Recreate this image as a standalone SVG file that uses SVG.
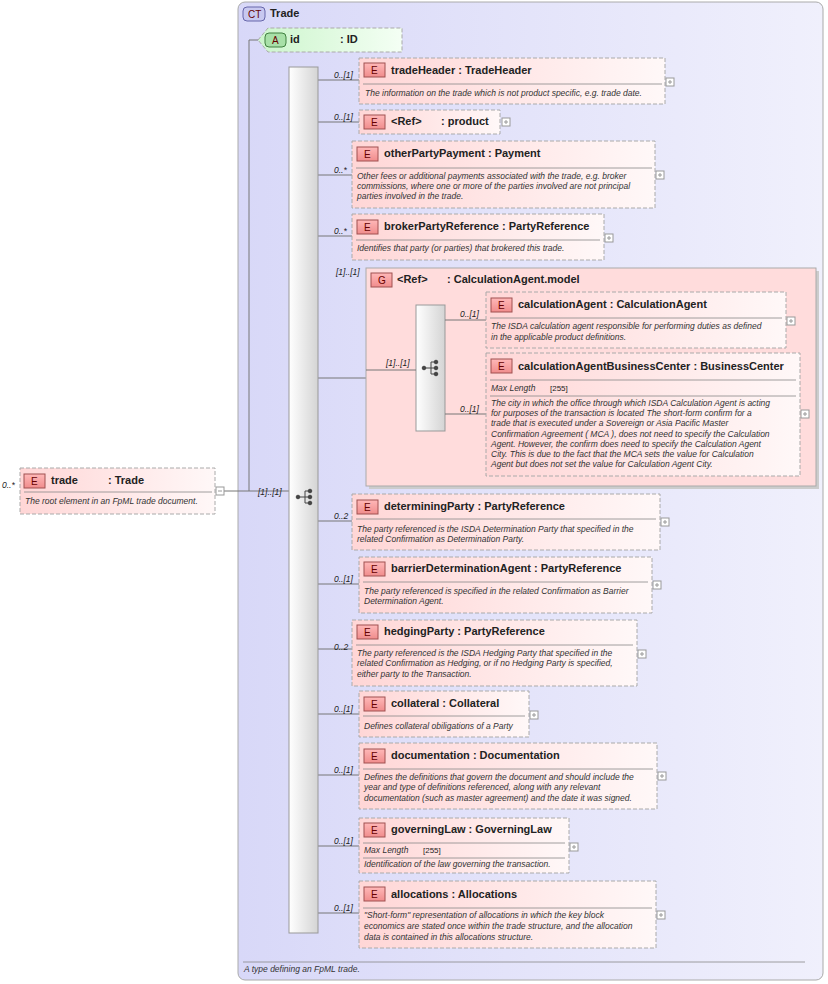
<svg xmlns="http://www.w3.org/2000/svg" width="828" height="984" viewBox="0 0 828 984">
<defs>
<linearGradient id="eg" x1="0" x2="1" y1="0" y2="0"><stop offset="0" stop-color="#ffd6d6"/><stop offset="1" stop-color="#fff8f8"/></linearGradient>
<linearGradient id="ag" x1="0" x2="1"><stop offset="0" stop-color="#ccf5cc"/><stop offset="1" stop-color="#f4fff4"/></linearGradient>
<linearGradient id="sg" x1="0" x2="1"><stop offset="0" stop-color="#ffffff"/><stop offset="1" stop-color="#d4d4d4"/></linearGradient>
<linearGradient id="ctg" x1="0" x2="1"><stop offset="0" stop-color="#d8d8f8"/><stop offset="1" stop-color="#f0f0fc"/></linearGradient>
<linearGradient id="bg" x1="0" x2="0" y1="0" y2="1"><stop offset="0" stop-color="#ffb8b8"/><stop offset="1" stop-color="#f08c8c"/></linearGradient>
<g id="seqicon" fill="#444" stroke="#444"><line x1="-7" y1="0" x2="0" y2="0"/><line x1="0" y1="-6" x2="0" y2="6"/><line x1="0" y1="-6" x2="4" y2="-6"/><line x1="0" y1="0" x2="4" y2="0"/><line x1="0" y1="6" x2="4" y2="6"/><circle cx="-7" cy="0" r="1.8"/><circle cx="5" cy="-6" r="1.8"/><circle cx="5" cy="0" r="1.8"/><circle cx="5" cy="6" r="1.8"/></g>
</defs>
<style>
text{font-family:"Liberation Sans",Arial,sans-serif;fill:#222}
.t{font-size:11px;font-weight:bold}
.d{font-size:8.5px;font-style:italic;fill:#333}
.c{font-size:8.5px;font-style:italic;fill:#222}
.el{fill:url(#eg);stroke:#aaa;stroke-dasharray:4,2}
.b{fill:url(#bg);stroke:#a05050}
.bt{font-size:10px;fill:#600;font-family:"Liberation Sans",Arial,sans-serif}
.sep{stroke:#888;stroke-width:0.8}
.ln{stroke:#777;fill:none}
.pl{fill:#fff;stroke:#999}
.sh{fill:#ccc}
</style>
<g id="ct">
<rect x="238" y="2" width="585" height="978" rx="7" fill="url(#ctg)" stroke="#aaa"/>
<rect x="243" y="7" width="22" height="14" rx="4" fill="#c8c8f0" stroke="#6666aa"/><text x="248" y="18" class="bt" fill="#336">CT</text>
<text x="270" y="17" class="t">Trade</text>
<line x1="243" y1="962" x2="805" y2="962" class="sep"/>
<text x="244" y="972" class="d">A type defining an FpML trade.</text>
</g>
<g id="connectors">
<polyline class="ln" points="222,491 249,491"/>
<polyline class="ln" points="258,40 249,40 249,491 289,491"/>
<text x="258" y="495" class="c">[1]..[1]</text>
<line class="ln" x1="318" y1="80" x2="359" y2="80"/><text x="334" y="78" class="c">0..[1]</text>
<line class="ln" x1="318" y1="122" x2="359" y2="122"/><text x="334" y="120" class="c">0..[1]</text>
<line class="ln" x1="318" y1="175" x2="352" y2="175"/><text x="334" y="173" class="c">0..*</text>
<line class="ln" x1="318" y1="236" x2="352" y2="236"/><text x="334" y="234" class="c">0..*</text>
<line class="ln" x1="318" y1="378" x2="366" y2="378"/><text x="336" y="275" class="c">[1]..[1]</text>
<line class="ln" x1="318" y1="521" x2="352" y2="521"/><text x="334" y="519" class="c">0..2</text>
<line class="ln" x1="318" y1="584" x2="359" y2="584"/><text x="334" y="582" class="c">0..[1]</text>
<line class="ln" x1="318" y1="649" x2="352" y2="649"/><text x="334" y="650" class="c">0..2</text>
<line class="ln" x1="318" y1="714" x2="359" y2="714"/><text x="334" y="712" class="c">0..[1]</text>
<line class="ln" x1="318" y1="775" x2="359" y2="775"/><text x="334" y="773" class="c">0..[1]</text>
<line class="ln" x1="318" y1="846" x2="359" y2="846"/><text x="334" y="844" class="c">0..[1]</text>
<line class="ln" x1="318" y1="913" x2="359" y2="913"/><text x="334" y="911" class="c">0..[1]</text>
</g>
<g id="trade">
<text x="2" y="488" class="c">0..*</text>
<rect x="20" y="468" width="195" height="46" class="el"/>
<rect x="24" y="474" width="21" height="14" class="b"/><text x="31" y="485" class="bt">E</text>
<text x="51" y="484" class="t">trade</text><text x="108" y="484" class="t">: Trade</text>
<line x1="24" y1="492" x2="212" y2="492" class="sep"/>
<text x="25" y="504" class="d">The root element in an FpML trade document.</text>
<rect x="216" y="487" width="8" height="8" class="pl"/><line x1="218" y1="491" x2="222" y2="491" stroke="#999"/>
</g>
<g id="id">
<path d="M258,40 L268,28 L402,28 L402,52 L268,52 Z" fill="url(#ag)" stroke="#aaa" stroke-dasharray="4,2"/>
<rect x="265" y="33" width="21" height="14" rx="4" fill="#a8e0a8" stroke="#408040"/><text x="272" y="44" class="bt" fill="#040">A</text>
<text x="290" y="43" class="t">id</text><text x="340" y="43" class="t">: ID</text>
</g>
<g id="seq">
<rect x="289" y="67" width="29" height="866" fill="url(#sg)" stroke="#999"/>
<use href="#seqicon" x="305" y="497"/>
</g>
<g id="tradeHeader">
<rect x="359" y="58" width="306" height="46" class="el"/>
<rect x="364" y="63" width="21" height="14" class="b"/><text x="371" y="74" class="bt">E</text>
<text x="391" y="74" class="t">tradeHeader : TradeHeader</text>
<line x1="363" y1="84" x2="662" y2="84" class="sep"/>
<text x="365" y="96" class="d">The information on the trade which is not product specific, e.g. trade date.</text>
<rect x="666" y="78" width="8" height="8" class="pl"/><path d="M668,82h4M670,80v4" stroke="#999"/>
</g>
<g id="product">
<rect x="359" y="110" width="141" height="24" class="el"/>
<rect x="364" y="115" width="21" height="14" class="b"/><text x="371" y="126" class="bt">E</text>
<text x="391" y="125" class="t">&lt;Ref&gt;</text><text x="441" y="125" class="t">: product</text>
<rect x="502" y="118" width="8" height="8" class="pl"/><path d="M504,122h4M506,120v4" stroke="#999"/>
</g>
<g id="otherPartyPayment">
<rect x="352" y="141" width="303" height="67" class="el"/>
<rect x="357" y="147" width="21" height="14" class="b"/><text x="364" y="158" class="bt">E</text>
<text x="384" y="157" class="t">otherPartyPayment : Payment</text>
<line x1="356" y1="168" x2="652" y2="168" class="sep"/>
<text x="357" y="179" class="d">Other fees or additional payments associated with the trade, e.g. broker</text>
<text x="357" y="189" class="d">commissions, where one or more of the parties involved are not principal</text>
<text x="357" y="199" class="d">parties involved in the trade.</text>
<rect x="656" y="171" width="8" height="8" class="pl"/><path d="M658,175h4M660,173v4" stroke="#999"/>
</g>
<g id="brokerPartyReference">
<rect x="352" y="214" width="252" height="46" class="el"/>
<rect x="357" y="220" width="21" height="14" class="b"/><text x="364" y="231" class="bt">E</text>
<text x="384" y="230" class="t">brokerPartyReference : PartyReference</text>
<line x1="356" y1="240" x2="600" y2="240" class="sep"/>
<text x="357" y="251" class="d">Identifies that party (or parties) that brokered this trade.</text>
<rect x="605" y="234" width="8" height="8" class="pl"/><path d="M607,238h4M609,236v4" stroke="#999"/>
</g>
<g id="calcModel">
<rect x="369" y="271" width="450" height="218" class="sh"/>
<rect x="366" y="268" width="450" height="218" fill="#ffdcdc" stroke="#aaa"/>
<rect x="371" y="273" width="21" height="14" class="b"/><text x="378" y="284" class="bt">G</text>
<text x="397" y="283" class="t" font-weight="normal">&lt;Ref&gt;</text><text x="447" y="283" class="t" font-weight="normal">: CalculationAgent.model</text>
<rect x="416" y="305" width="29" height="126" fill="url(#sg)" stroke="#999"/>
<use href="#seqicon" x="431" y="368"/>
</g>
<g id="connectors-inner">
<line class="ln" x1="366" y1="370" x2="416" y2="370"/><text x="386" y="366" class="c">[1]..[1]</text>
<line class="ln" x1="445" y1="320" x2="486" y2="320"/><text x="460" y="317" class="c">0..[1]</text>
<line class="ln" x1="445" y1="414" x2="486" y2="414"/><text x="460" y="412" class="c">0..[1]</text>
</g>
<g id="calculationAgent">
<rect x="486" y="292" width="300" height="56" class="el"/>
<rect x="491" y="298" width="21" height="14" class="b"/><text x="498" y="309" class="bt">E</text>
<text x="518" y="308" class="t">calculationAgent : CalculationAgent</text>
<line x1="490" y1="318" x2="782" y2="318" class="sep"/>
<text x="491" y="329" class="d">The ISDA calculation agent responsible for performing duties as defined</text>
<text x="491" y="340" class="d">in the applicable product definitions.</text>
<rect x="787" y="317" width="8" height="8" class="pl"/><path d="M789,321h4M791,319v4" stroke="#999"/>
</g>
<g id="calculationAgentBusinessCenter">
<rect x="486" y="353" width="314" height="123" class="el"/>
<rect x="491" y="359" width="21" height="14" class="b"/><text x="498" y="370" class="bt">E</text>
<text x="518" y="370" class="t">calculationAgentBusinessCenter : BusinessCenter</text>
<line x1="490" y1="380" x2="796" y2="380" class="sep"/>
<text x="491" y="391" class="d">Max Length</text><text x="550" y="391" font-size="8" fill="#888">[255]</text>
<line x1="490" y1="396" x2="796" y2="396" class="sep"/>
<text x="491" y="406" class="d">The city in which the office through which ISDA Calculation Agent is acting</text>
<text x="491" y="416" class="d">for purposes of the transaction is located The short-form confirm for a</text>
<text x="491" y="426" class="d">trade that is executed under a Sovereign or Asia Pacific Master</text>
<text x="491" y="437" class="d">Confirmation Agreement ( MCA ), does not need to specify the Calculation</text>
<text x="491" y="447" class="d">Agent. However, the confirm does need to specify the Calculation Agent</text>
<text x="491" y="457" class="d">City. This is due to the fact that the MCA sets the value for Calculation</text>
<text x="491" y="467" class="d">Agent but does not set the value for Calculation Agent City.</text>
<rect x="801" y="410" width="8" height="8" class="pl"/><path d="M803,414h4M805,412v4" stroke="#999"/>
</g>
<g id="determiningParty">
<rect x="352" y="494" width="308" height="56" class="el"/>
<rect x="357" y="500" width="21" height="14" class="b"/><text x="364" y="511" class="bt">E</text>
<text x="384" y="510" class="t">determiningParty : PartyReference</text>
<line x1="356" y1="519" x2="656" y2="519" class="sep"/>
<text x="357" y="532" class="d">The party referenced is the ISDA Determination Party that specified in the</text>
<text x="357" y="542" class="d">related Confirmation as Determination Party.</text>
<rect x="661" y="518" width="8" height="8" class="pl"/><path d="M663,522h4M665,520v4" stroke="#999"/>
</g>
<g id="barrierDeterminationAgent">
<rect x="359" y="557" width="293" height="56" class="el"/>
<rect x="364" y="562" width="21" height="14" class="b"/><text x="371" y="573" class="bt">E</text>
<text x="391" y="572" class="t">barrierDeterminationAgent : PartyReference</text>
<line x1="363" y1="582" x2="648" y2="582" class="sep"/>
<text x="364" y="594" class="d">The party referenced is specified in the related Confirmation as Barrier</text>
<text x="364" y="604" class="d">Determination Agent.</text>
<rect x="653" y="581" width="8" height="8" class="pl"/><path d="M655,585h4M657,583v4" stroke="#999"/>
</g>
<g id="hedgingParty">
<rect x="352" y="620" width="285" height="66" class="el"/>
<rect x="357" y="625" width="21" height="14" class="b"/><text x="364" y="636" class="bt">E</text>
<text x="384" y="635" class="t">hedgingParty : PartyReference</text>
<line x1="356" y1="645" x2="633" y2="645" class="sep"/>
<text x="357" y="656" class="d">The party referenced is the ISDA Hedging Party that specified in the</text>
<text x="357" y="666" class="d">related Confirmation as Hedging, or if no Hedging Party is specified,</text>
<text x="357" y="677" class="d">either party to the Transaction.</text>
<rect x="638" y="650" width="8" height="8" class="pl"/><path d="M640,654h4M642,652v4" stroke="#999"/>
</g>
<g id="collateral">
<rect x="359" y="691" width="170" height="46" class="el"/>
<rect x="364" y="697" width="21" height="14" class="b"/><text x="371" y="708" class="bt">E</text>
<text x="391" y="707" class="t">collateral : Collateral</text>
<line x1="363" y1="716" x2="525" y2="716" class="sep"/>
<text x="364" y="729" class="d">Defines collateral obiligations of a Party</text>
<rect x="530" y="711" width="8" height="8" class="pl"/><path d="M532,715h4M534,713v4" stroke="#999"/>
</g>
<g id="documentation">
<rect x="359" y="743" width="298" height="66" class="el"/>
<rect x="364" y="749" width="21" height="14" class="b"/><text x="371" y="760" class="bt">E</text>
<text x="391" y="759" class="t">documentation : Documentation</text>
<line x1="363" y1="769" x2="653" y2="769" class="sep"/>
<text x="364" y="780" class="d">Defines the definitions that govern the document and should include the</text>
<text x="364" y="790" class="d">year and type of definitions referenced, along with any relevant</text>
<text x="364" y="801" class="d">documentation (such as master agreement) and the date it was signed.</text>
<rect x="658" y="772" width="8" height="8" class="pl"/><path d="M660,776h4M662,774v4" stroke="#999"/>
</g>
<g id="governingLaw">
<rect x="359" y="818" width="210" height="55" class="el"/>
<rect x="364" y="823" width="21" height="14" class="b"/><text x="371" y="834" class="bt">E</text>
<text x="391" y="833" class="t">governingLaw : GoverningLaw</text>
<line x1="363" y1="843" x2="565" y2="843" class="sep"/>
<text x="364" y="853" class="d">Max Length</text><text x="423" y="853" font-size="8" fill="#888">[255]</text>
<line x1="363" y1="858" x2="565" y2="858" class="sep"/>
<text x="364" y="867" class="d">Identification of the law governing the transaction.</text>
<rect x="570" y="843" width="8" height="8" class="pl"/><path d="M572,847h4M574,845v4" stroke="#999"/>
</g>
<g id="allocations">
<rect x="359" y="881" width="297" height="67" class="el"/>
<rect x="364" y="887" width="21" height="14" class="b"/><text x="371" y="898" class="bt">E</text>
<text x="391" y="898" class="t">allocations : Allocations</text>
<line x1="363" y1="908" x2="652" y2="908" class="sep"/>
<text x="364" y="918" class="d">"Short-form" representation of allocations in which the key block</text>
<text x="364" y="929" class="d">economics are stated once within the trade structure, and the allocation</text>
<text x="364" y="940" class="d">data is contained in this allocations structure.</text>
<rect x="657" y="911" width="8" height="8" class="pl"/><path d="M659,915h4M661,913v4" stroke="#999"/>
</g>
</svg>
